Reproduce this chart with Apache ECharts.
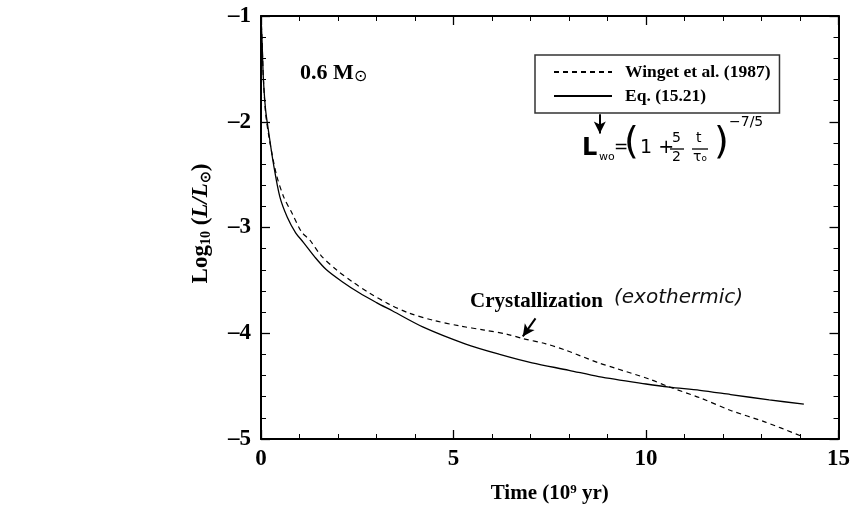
<!DOCTYPE html>
<html>
<head>
<meta charset="utf-8">
<script src="https://cdn.jsdelivr.net/npm/echarts@6/dist/echarts.min.js"></script>
<style>
  html, body { margin: 0; background: #fff; }
  #chart { width: 853px; height: 521px; }
</style>
</head>
<body>
<div id="chart"></div>
<script>
// Winget et al. (1987) cooling curve (dashed)
var wingetTime = [0, 0.03, 0.06, 0.12, 0.21, 0.4, 0.6, 0.8, 1.05, 1.27, 1.57, 1.96, 2.4, 2.82, 3.3, 3.85, 4.5, 5.15, 5.8, 6.4, 6.8, 7.4, 7.91, 8.77, 9.2, 10.06, 10.62, 11.4, 12.2, 13.1, 14.02];
var wingetLogL = [-1.0, -1.26, -1.58, -1.92, -2.15, -2.5, -2.72, -2.86, -3.04, -3.12, -3.27, -3.40, -3.52, -3.62, -3.72, -3.81, -3.88, -3.93, -3.97, -4.01, -4.05, -4.10, -4.16, -4.28, -4.33, -4.43, -4.51, -4.61, -4.73, -4.84, -4.97];

// Eq. (15.21) cooling curve (solid)
var eqTime = [0, 0.03, 0.06, 0.12, 0.2, 0.32, 0.49, 0.68, 0.9, 1.1, 1.4, 1.7, 2.1, 2.56, 3.0, 3.42, 4.2, 5.3, 6.2, 7.04, 8.0, 8.77, 10.0, 10.6, 11.4, 12.2, 13.2, 14.1];
var eqLogL = [-1.0, -1.26, -1.58, -1.89, -2.1, -2.39, -2.71, -2.9, -3.05, -3.14, -3.28, -3.40, -3.51, -3.62, -3.71, -3.79, -3.94, -4.10, -4.20, -4.28, -4.35, -4.41, -4.48, -4.51, -4.54, -4.58, -4.63, -4.67];

var xTicks = [0, 5, 10, 15];
var yTicks = [-5, -4, -3, -2, -1];

var seriesNames = ['Winget et al. (1987)', 'Eq. (15.21)'];

function zip(a, b) {
  var out = [];
  for (var i = 0; i < a.length; i++) out.push([a[i], b[i]]);
  return out;
}

var serif = 'Liberation Serif';
var hand = 'DejaVu Sans';

function frameAxis(pos, show) {
  return {
    type: 'value',
    position: pos,
    axisLine: { show: true, onZero: false, lineStyle: { color: '#000', width: 2 } },
    axisTick: { show: true, inside: true, length: 9, lineStyle: { color: '#000', width: 1.3 } },
    minorTick: { show: true, splitNumber: 5, length: 5, lineStyle: { color: '#000', width: 1 } },
    splitLine: { show: false },
    axisLabel: { show: show, fontFamily: serif, fontSize: 23, fontWeight: 'bold', color: '#000' }
  };
}

var xBottom = frameAxis('bottom', true);
xBottom.min = xTicks[0];
xBottom.max = xTicks[xTicks.length - 1];
xBottom.interval = 5;
xBottom.axisLabel.margin = 9;
xBottom.name = '{a|Time (10}{s|9}{a| yr)}';
xBottom.nameLocation = 'middle';
xBottom.nameGap = 44;
xBottom.nameTextStyle = {
  rich: {
    a: { fontFamily: serif, fontSize: 21, fontWeight: 'bold', color: '#000' },
    s: { fontFamily: serif, fontSize: 13, fontWeight: 'bold', color: '#000', verticalAlign: 'top', padding: [0, 0, 8, 0] }
  }
};

var xTop = frameAxis('top', false);
xTop.min = xTicks[0];
xTop.max = xTicks[xTicks.length - 1];
xTop.interval = 5;

var yLeft = frameAxis('left', true);
yLeft.min = yTicks[0];
yLeft.max = yTicks[yTicks.length - 1];
yLeft.interval = 1;
yLeft.axisLabel.margin = 10;
yLeft.axisLabel.formatter = function (v) { return String(v).replace('-', '\u2013'); };
yLeft.name = '{a|Log}{b|10}{a| (}{i|L/L}{b|\u2299}{a|)}';
yLeft.nameLocation = 'middle';
yLeft.nameGap = 48;
yLeft.nameRotate = 90;
yLeft.nameTextStyle = {
  padding: [0, 0, 0, 8],
  rich: {
    a: { fontFamily: serif, fontSize: 23, fontWeight: 'bold', color: '#000' },
    i: { fontFamily: serif, fontSize: 23, fontWeight: 'bold', fontStyle: 'italic', color: '#000' },
    b: { fontFamily: serif, fontSize: 14, fontWeight: 'bold', color: '#000', verticalAlign: 'bottom', padding: [9, 0, 0, 0] }
  }
};

var yRight = frameAxis('right', false);
yRight.min = yTicks[0];
yRight.max = yTicks[yTicks.length - 1];
yRight.interval = 1;

var chart = echarts.init(document.getElementById('chart'));

var option = {
  animation: false,
  backgroundColor: '#fff',
  grid: { left: 261, right: 12, top: 16, bottom: 82 },
  xAxis: [xBottom, xTop],
  yAxis: [yLeft, yRight],
  legend: {
    data: seriesNames,
    orient: 'vertical',
    left: 535,
    top: 55,
    padding: [8, 9, 8, 18],
    itemGap: 6,
    itemWidth: 58,
    itemHeight: 12,
    borderColor: '#333',
    borderWidth: 1.5,
    itemStyle: { opacity: 0 },
    textStyle: { fontFamily: serif, fontSize: 17.5, fontWeight: 'bold', color: '#000', padding: [0, 0, 0, 8] }
  },
  series: [
    {
      name: seriesNames[0],
      type: 'line',
      data: zip(wingetTime, wingetLogL),
      showSymbol: false,
      symbol: 'none',
      smooth: 0.3,
      lineStyle: { color: '#000', width: 1.2, type: [5, 4] },
      z: 3
    },
    {
      name: seriesNames[1],
      type: 'line',
      data: zip(eqTime, eqLogL),
      showSymbol: false,
      symbol: 'none',
      smooth: 0.3,
      lineStyle: { color: '#000', width: 1.3 },
      z: 3,
      markLine: {
        silent: true,
        symbol: ['none', 'arrow'],
        symbolSize: [9, 12],
        label: { show: false },
        lineStyle: { color: '#000', width: 2, type: 'solid' },
        data: [
          [{ coord: [7.13, -3.86] }, { coord: [6.8, -4.03] }],
          [{ coord: [8.8, -1.93] }, { coord: [8.8, -2.11] }]
        ]
      }
    }
  ],
  graphic: [
    {
      type: 'text', left: 300, top: 62,
      style: {
        text: '{a|0.6 M}{s|\u2299}',
        rich: {
          a: { fontFamily: serif, fontSize: 22, fontWeight: 'bold', fill: '#000' },
          s: { fontFamily: serif, fontSize: 16, fill: '#000', verticalAlign: 'bottom', padding: [7, 0, 0, 0] }
        }
      }
    },
    {
      type: 'text', left: 470, top: 291,
      style: { text: 'Crystallization', fontFamily: serif, fontSize: 21, fontWeight: 'bold', fill: '#000' }
    },
    {
      type: 'text', left: 614, top: 288,
      style: { text: '(exothermic)', fontFamily: hand, fontSize: 20, fontStyle: 'italic', fill: '#111' }
    },
    // hand-written formula under the legend
    { type: 'text', left: 582, top: 137, style: { text: 'L', fontFamily: hand, fontSize: 24, fontWeight: 'bold', fill: '#000' } },
    { type: 'text', left: 599, top: 152, style: { text: 'wo', fontFamily: hand, fontSize: 11, fill: '#000' } },
    { type: 'text', left: 614, top: 139, style: { text: '=', fontFamily: hand, fontSize: 17, fill: '#000' } },
    { type: 'text', left: 624, top: 124, style: { text: '(', fontFamily: hand, fontSize: 38, fill: '#000' } },
    { type: 'text', left: 640, top: 139, style: { text: '1 +', fontFamily: hand, fontSize: 19, fill: '#000' } },
    { type: 'text', left: 672, top: 131, style: { text: '5', fontFamily: hand, fontSize: 14, fill: '#000' } },
    { type: 'text', left: 672, top: 150, style: { text: '2', fontFamily: hand, fontSize: 14, fill: '#000' } },
    { type: 'line', shape: { x1: 670, y1: 149, x2: 684, y2: 149 }, style: { stroke: '#000', lineWidth: 1.3 } },
    { type: 'text', left: 696, top: 131, style: { text: 't', fontFamily: hand, fontSize: 14, fill: '#000' } },
    { type: 'text', left: 693, top: 150, style: { text: '\u03c4\u2092', fontFamily: hand, fontSize: 14, fill: '#000' } },
    { type: 'line', shape: { x1: 692, y1: 149, x2: 708, y2: 149 }, style: { stroke: '#000', lineWidth: 1.3 } },
    { type: 'text', left: 714, top: 124, style: { text: ')', fontFamily: hand, fontSize: 38, fill: '#000' } },
    { type: 'text', left: 729, top: 115, style: { text: '\u22127/5', fontFamily: hand, fontSize: 14, fill: '#000' } }
  ]
};

chart.setOption(option);
</script>
</body>
</html>
